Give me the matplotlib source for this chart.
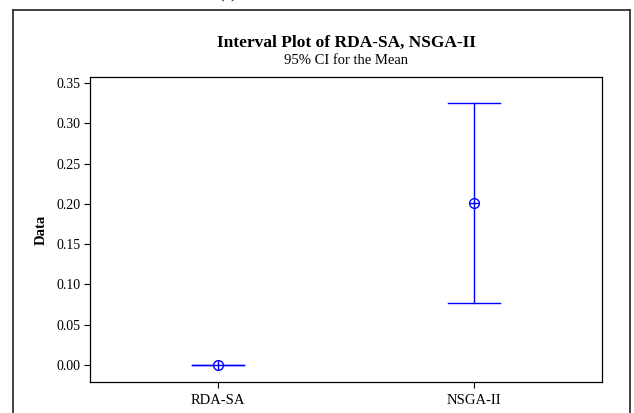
import matplotlib
matplotlib.use("Agg")
import matplotlib.pyplot as plt
from matplotlib.lines import Line2D

# Interval plot data: mean and 95% CI half-width per method
methods = ["RDA-SA", "NSGA-II"]
means = [0.0, 0.201]
ci_half = [0.0, 0.1245]

BLUE = "#0000ff"
plt.rcParams["font.family"] = ["Liberation Serif", "DejaVu Serif"]

W, H = 634, 413
fig = plt.figure(figsize=(W / 100, H / 100), dpi=100)
fig.patch.set_facecolor("white")

# axes box in pixel terms: left 90, right 602, top 77, bottom 382
ax = fig.add_axes([90 / W, 1 - 382 / H, (602 - 90) / W, (382 - 77) / H])

xs = list(range(1, len(methods) + 1))
for x, m, h in zip(xs, means, ci_half):
    ax.plot([x, x], [m - h, m + h], color=BLUE, lw=1.0, zorder=2)
    for y in (m - h, m + h):
        ax.plot([x - 0.102, x + 0.102], [y, y], color=BLUE, lw=1.0, zorder=2)
    ax.plot(x, m, marker="o", ms=7, mfc="white", mec=BLUE, mew=1.0, zorder=3)
    ax.plot(x, m, marker="+", ms=7, color=BLUE, mew=1.0, zorder=4)

ax.set_xlim(0.5, 2.5)
ax.set_ylim(-0.0211, 0.3574)
ax.set_xticks(xs)
ax.set_xticklabels(methods)
ax.set_yticks([0.0, 0.05, 0.10, 0.15, 0.20, 0.25, 0.30, 0.35])
ax.set_yticklabels([f"{v:.2f}" for v in ax.get_yticks()])
ax.tick_params(direction="out", length=4, width=0.8, colors="black", pad=3)
ax.tick_params(axis="x", labelsize=10.5, pad=5)
ax.tick_params(axis="y", labelsize=10)
for s in ax.spines.values():
    s.set_linewidth(0.9)
    s.set_color("black")

ax.set_ylabel("Data", fontsize=10.5, fontweight="bold", labelpad=6)

fig.text(346 / W, 1 - 43 / H, "Interval Plot of RDA-SA, NSGA-II", ha="center",
         va="center", fontsize=12.5, fontweight="bold")
fig.text(346 / W, 1 - 60 / H, "95% CI for the Mean", ha="center", va="center", fontsize=10.5)

# caption of the panel, cut off at the top edge
fig.text(228 / W, 1 + 6 / H, "(a)", ha="center", va="center", fontsize=12)

# outer panel frame (runs off the bottom)
frame_kw = dict(transform=fig.transFigure, color="#333333", lw=1.3)
fig.add_artist(Line2D([13 / W, 13 / W], [0, 1 - 10 / H], **frame_kw))
fig.add_artist(Line2D([13 / W, 630 / W], [1 - 10 / H, 1 - 10 / H], **frame_kw))
fig.add_artist(Line2D([630 / W, 630 / W], [0, 1 - 10 / H], **frame_kw))

fig.savefig("out.png", dpi=100)
